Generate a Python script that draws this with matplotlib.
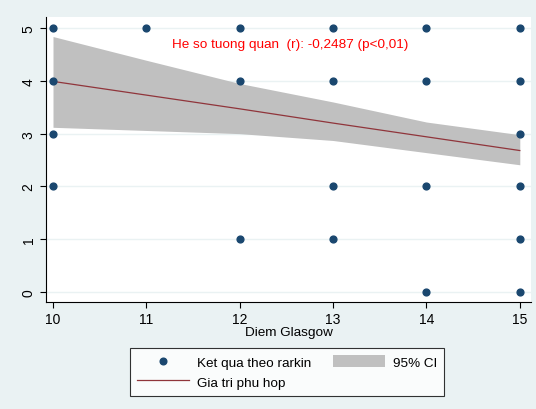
import matplotlib
matplotlib.use("Agg")
import matplotlib.pyplot as plt
from matplotlib.patches import Patch
from matplotlib.lines import Line2D

plt.rcParams['font.family'] = ['Liberation Sans', 'DejaVu Sans']

# observed points (Diem Glasgow vs Ket qua theo rankin)
pt_x = [10, 10, 10, 10, 11, 12, 12, 12, 13, 13, 13, 13, 14, 14, 14, 14, 15, 15, 15, 15, 15, 15]
pt_y = [5, 4, 3, 2, 5, 5, 4, 1, 5, 4, 2, 1, 5, 4, 2, 0, 5, 4, 3, 2, 1, 0]

# fitted line and 95% CI
fit_x = [10, 11, 12, 13, 14, 15]
fit_y = [3.99, 3.73, 3.47, 3.20, 2.94, 2.68]
ci_low = [3.12, 3.06, 3.00, 2.87, 2.64, 2.41]
ci_high = [4.84, 4.39, 3.95, 3.60, 3.22, 2.98]

bg = '#EAF2F3'
navy = '#1A476F'
maroon = '#90353B'

fig = plt.figure(figsize=(5.36, 4.10), dpi=100, facecolor=bg)
ax = fig.add_axes([46 / 536, 107 / 410, 485 / 536, 285 / 410])
ax.set_facecolor('white')

ax.fill_between(fit_x, ci_low, ci_high, color='#C0C0C0', linewidth=0, zorder=2)
ax.plot(fit_x, fit_y, color=maroon, linewidth=0.9, zorder=3)
ax.scatter(pt_x, pt_y, s=24, color=navy, zorder=4, clip_on=False)

ax.set_xlim(9.925, 15.12)
ax.set_ylim(-0.19, 5.21)
ax.set_xticks(range(10, 16))
ax.set_yticks(range(0, 6))
ax.set_yticklabels([str(v) for v in range(0, 6)], rotation=90, va='center')
ax.tick_params(labelsize=10, length=4, width=0.8, color='black')
for v in range(0, 6):
    ax.axhline(v, color=bg, linewidth=1.0, zorder=1)

for side in ['top', 'right']:
    ax.spines[side].set_visible(False)
for side in ['left', 'bottom']:
    ax.spines[side].set_linewidth(0.8)

ax.set_xlabel('Diem Glasgow', fontsize=9.7, labelpad=0)
ax.text(12.54, 4.70, 'He so tuong quan  (r): -0,2487 (p<0,01)', color='#FF0000',
        fontsize=9.7, ha='center', va='center', zorder=5)

handles = [
    Line2D([], [], marker='o', linestyle='none', color=navy, markersize=4.8),
    Line2D([], [], color=maroon, linewidth=0.9),
    Patch(facecolor='#C0C0C0', edgecolor='none'),
]
labels = ['Ket qua theo rarkin', 'Gia tri phu hop', '95% CI']
leg = fig.legend(handles, labels, ncol=2, loc='center', bbox_to_anchor=(287 / 536, 37 / 410),
                 fontsize=9.7, frameon=True, fancybox=False, edgecolor='black',
                 handlelength=3.85, handleheight=1.0, handletextpad=0.6,
                 columnspacing=1.6, borderpad=0.55, labelspacing=0.45)
leg.get_frame().set_linewidth(0.8)

fig.savefig('out.png', dpi=100, facecolor=bg)
